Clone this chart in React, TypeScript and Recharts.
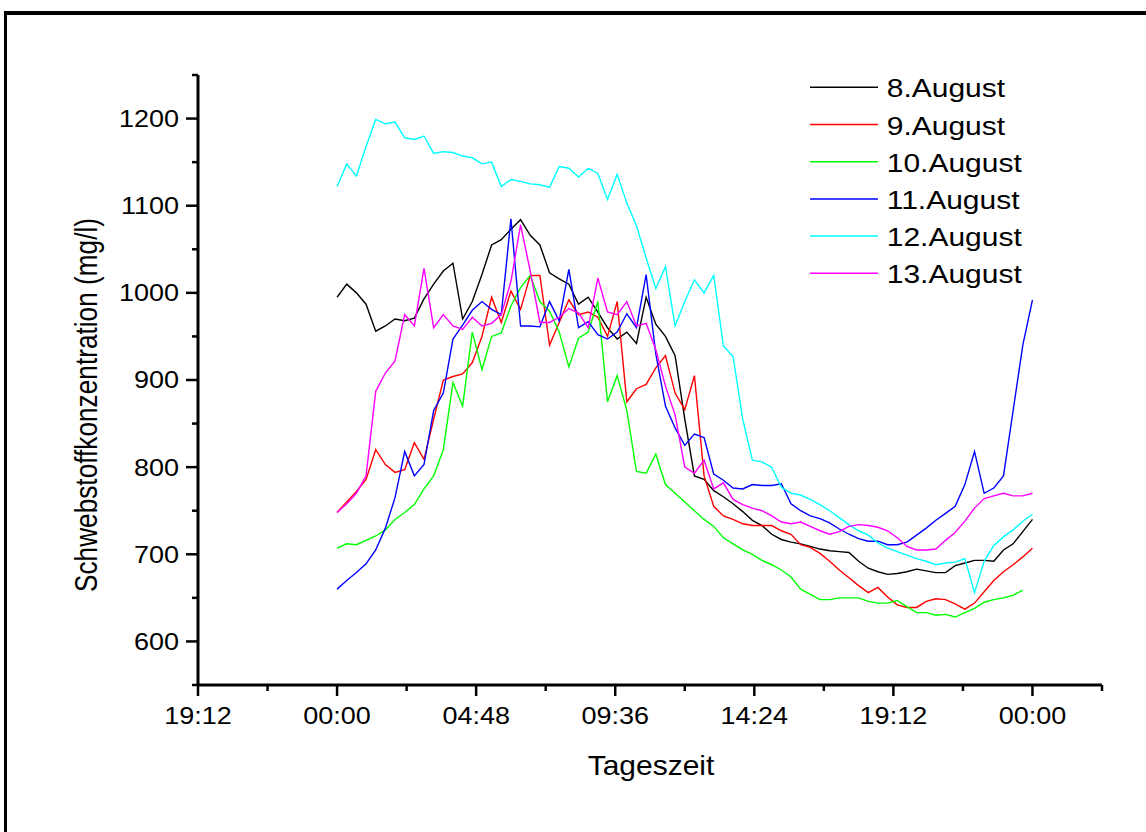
import React from 'react';
import { LineChart, Line, XAxis, YAxis, Legend } from 'recharts';

const timeMinutes = [
  0, 20, 40, 60, 80, 100, 120, 140, 160, 180, 200, 220, 240, 260, 280, 300, 320, 340, 360, 380,
  400, 420, 440, 460, 480, 500, 520, 540, 560, 580, 600, 620, 640, 660, 680, 700, 720, 740, 760, 780,
  800, 820, 840, 860, 880, 900, 920, 940, 960, 980, 1000, 1020, 1040, 1060, 1080, 1100, 1120, 1140, 1160, 1180,
  1200, 1220, 1240, 1260, 1280, 1300, 1320, 1340, 1360, 1380, 1400, 1420, 1440,
];

const aug8 = [
  995, 1010, 1000, 987, 956, 962, 970, 968, 971, 993,
  1010, 1025, 1034, 970, 990, 1021, 1055, 1061, 1073, 1084,
  1066, 1055, 1023, 1016, 1010, 987, 995, 978, 960, 947,
  955, 942, 995, 964, 950, 928, 855, 790, 786, 773,
  766, 758, 749, 739, 733, 723, 717, 714, 712, 709,
  706, 704, 703, 702, 692, 684, 680, 677, 678, 680,
  683, 681, 679, 679, 687, 690, 693, 693, 692, 705,
  712, 726, 740,
];

const aug9 = [
  748, 760, 772, 786, 820, 803, 794, 797, 828, 809,
  855, 900, 904, 907, 920, 950, 995, 966, 1002, 981,
  1020, 1020, 940, 966, 992, 975, 978, 972, 950, 990,
  875, 890, 895, 914, 928, 885, 866, 905, 790, 755,
  744, 740, 735, 733, 733, 733, 727, 723, 711, 708,
  701, 692, 682, 673, 664, 656, 662, 651, 642, 639,
  639, 646, 649, 648, 643, 637, 644, 657, 670, 680,
  688, 697, 707,
];

const aug10 = [
  707, 712, 711, 716, 721, 728, 740, 748, 757, 775,
  790, 820, 897, 870, 955, 912, 950, 954, 985, 1006,
  1020, 990, 979, 955, 915, 948, 955, 990, 875, 905,
  865, 795, 793, 815, 780, 770, 760, 750, 740, 732,
  719, 712, 705, 700, 693, 688, 682, 674, 660, 654,
  648, 648, 650, 650, 650, 646, 644, 644, 647, 640,
  633, 633, 630, 631, 628, 633, 638, 645, 648, 650,
  653, 659, null,
];

const aug11 = [
  660, 670, 679, 689, 705, 730, 765, 818, 790, 803,
  865, 885, 947, 963, 980, 990, 981, 975, 1085, 962,
  962, 961, 990, 968, 1027, 960, 967, 952, 947, 955,
  976, 960, 1021, 930, 870, 845, 825, 838, 834, 792,
  785, 776, 775, 780, 779, 779, 781, 758, 750, 744,
  741, 736, 729, 723, 718, 715, 715, 711, 711, 714,
  722, 730, 739, 747, 755, 780, 818, 770, 776, 790,
  865, 940, 992,
];

const aug12 = [
  1122, 1148, 1134, 1168, 1199, 1194, 1196, 1178, 1176, 1180,
  1160, 1162, 1161, 1157, 1155, 1148, 1150, 1122, 1130, 1128,
  1125, 1124, 1121, 1145, 1143, 1133, 1143, 1137, 1107, 1136,
  1103, 1077, 1040, 1005, 1030, 962, 990, 1015, 1000, 1020,
  939, 927, 855, 808, 806, 800, 777, 770, 768, 763,
  757, 750, 742, 734, 727, 722, 713, 707, 703, 699,
  695, 692, 688, 690, 691, 695, 656, 692, 710, 720,
  728, 738, 746,
];

const aug13 = [
  748, 758, 770, 790, 887, 908, 922, 975, 962, 1028,
  960, 975, 962, 958, 972, 962, 965, 975, 1013, 1078,
  1025, 966, 966, 972, 982, 977, 960, 1017, 978, 975,
  990, 962, 965, 935, 893, 860, 800, 793, 808, 775,
  782, 763, 757, 753, 750, 744, 737, 735, 737, 732,
  727, 723, 726, 732, 734, 733, 731, 727, 719, 709,
  705, 705, 706, 716, 725, 738, 753, 764, 767, 770,
  767, 767, 770,
];

const seriesNames = ['8.August', '9.August', '10.August', '11.August', '12.August', '13.August'];
const seriesColors = ['#000000', '#ff0000', '#00ff00', '#0000ff', '#00ffff', '#ff00ff'];
const seriesValues = [aug8, aug9, aug10, aug11, aug12, aug13];

const xTicks = [-288, -144, 0, 144, 288, 432, 576, 720, 864, 1008, 1152, 1296, 1440, 1584];
const xTickLabels: Record<number, string> = {
  [-288]: '19:12',
  0: '00:00',
  288: '04:48',
  576: '09:36',
  864: '14:24',
  1152: '19:12',
  1440: '00:00',
};
const yTicks = [550, 600, 650, 700, 750, 800, 850, 900, 950, 1000, 1050, 1100, 1150, 1200, 1250];
const yTickLabels: Record<number, string> = {
  600: '600', 700: '700', 800: '800', 900: '900', 1000: '1000', 1100: '1100', 1200: '1200',
};

const xTitle = 'Tageszeit';
const yTitle = 'Schwebstoffkonzentration (mg/l)';

const FONT = "'Liberation Sans', Arial, Helvetica, sans-serif";

const data = timeMinutes.map((t, i) => {
  const row: Record<string, number | null> = { t };
  seriesValues.forEach((s, j) => {
    row['s' + j] = s[i];
  });
  return row;
});

const XTick = (props: any) => {
  const { x, y, payload } = props;
  const v = payload.value;
  const label = xTickLabels[v];
  const major = label !== undefined;
  return (
    <g>
      <line x1={x} x2={x} y1={y} y2={y + (major ? 11 : 6)} stroke="#000" strokeWidth={2.5} />
      {major && (
        <text
          transform={`translate(${x},${y + 39}) scale(1,0.86)`}
          textAnchor="middle"
          fontSize={27}
          fontFamily={FONT}
          fill="#000"
        >
          {label}
        </text>
      )}
    </g>
  );
};

const YTick = (props: any) => {
  const { x, y, payload } = props;
  const v = payload.value;
  const label = yTickLabels[v];
  const major = label !== undefined;
  return (
    <g>
      <line x1={x - (major ? 12 : 6)} x2={x} y1={y} y2={y} stroke="#000" strokeWidth={2.5} />
      {major && (
        <text
          transform={`translate(${x - 19},${y}) scale(1,0.86)`}
          textAnchor="end"
          dy="0.36em"
          fontSize={27}
          fontFamily={FONT}
          fill="#000"
        >
          {label}
        </text>
      )}
    </g>
  );
};

const renderLegend = () => {
  return (
    <svg width={260} height={240} style={{ display: 'block' }}>
      {seriesNames.map((name, i) => {
        const ry = 27.3 + 37.2 * i;
        return (
          <g key={name}>
            <line x1={10} x2={78} y1={ry} y2={ry} stroke={seriesColors[i]} strokeWidth={1.5} />
            <text
              transform={`translate(86.7,${ry + 10}) scale(1,0.85)`}
              fontSize={30}
              fontFamily={FONT}
              fill="#000"
            >
              {name}
            </text>
          </g>
        );
      })}
    </svg>
  );
};

export default function App() {
  return (
    <div
      style={{
        position: 'absolute',
        left: 0,
        top: 0,
        width: 1146,
        height: 832,
        background: '#fff',
        overflow: 'hidden',
      }}
    >
      <div
        style={{
          position: 'absolute',
          left: 4,
          top: 11,
          width: 1300,
          height: 1000,
          borderTop: '4px solid #000',
          borderLeft: '3px solid #000',
        }}
      />
      <div style={{ position: 'absolute', left: 0, top: 0 }}>
        <LineChart
          width={1146}
          height={832}
          data={data}
          margin={{ top: 75, right: 44, bottom: 47, left: 0 }}
        >
          <XAxis
            dataKey="t"
            type="number"
            domain={[-288, 1584]}
            ticks={xTicks}
            allowDataOverflow
            height={100}
            tickSize={0}
            tickMargin={0}
            tickLine={false}
            axisLine={{ stroke: '#000', strokeWidth: 3 }}
            tick={<XTick />}
            interval={0}
          />
          <YAxis
            type="number"
            domain={[550, 1250]}
            ticks={yTicks}
            allowDataOverflow
            width={198}
            tickSize={0}
            tickMargin={0}
            tickLine={false}
            axisLine={{ stroke: '#000', strokeWidth: 3 }}
            tick={<YTick />}
            interval={0}
          />
          <Legend
            layout="horizontal"
            verticalAlign="middle"
            align="center"
            wrapperStyle={{ left: 800, top: 60, width: 260, height: 240 }}
            content={renderLegend}
          />
          {seriesNames.map((name, j) => (
            <Line
              key={name}
              name={name}
              dataKey={'s' + j}
              type="linear"
              stroke={seriesColors[j]}
              strokeWidth={1.4}
              dot={false}
              activeDot={false}
              isAnimationActive={false}
              connectNulls={false}
            />
          ))}
        </LineChart>
      </div>
      <svg
        width={1146}
        height={832}
        style={{ position: 'absolute', left: 0, top: 0, pointerEvents: 'none' }}
      >
        <text
          transform="translate(651,775) scale(1,0.9)"
          textAnchor="middle"
          fontSize={30}
          fontFamily={FONT}
          fill="#000"
        >
          {xTitle}
        </text>
        <text
          transform="translate(97,405) scale(1,0.86) rotate(-90)"
          textAnchor="middle"
          fontSize={30.5}
          fontFamily={FONT}
          fill="#000"
        >
          {yTitle}
        </text>
      </svg>
    </div>
  );
}
